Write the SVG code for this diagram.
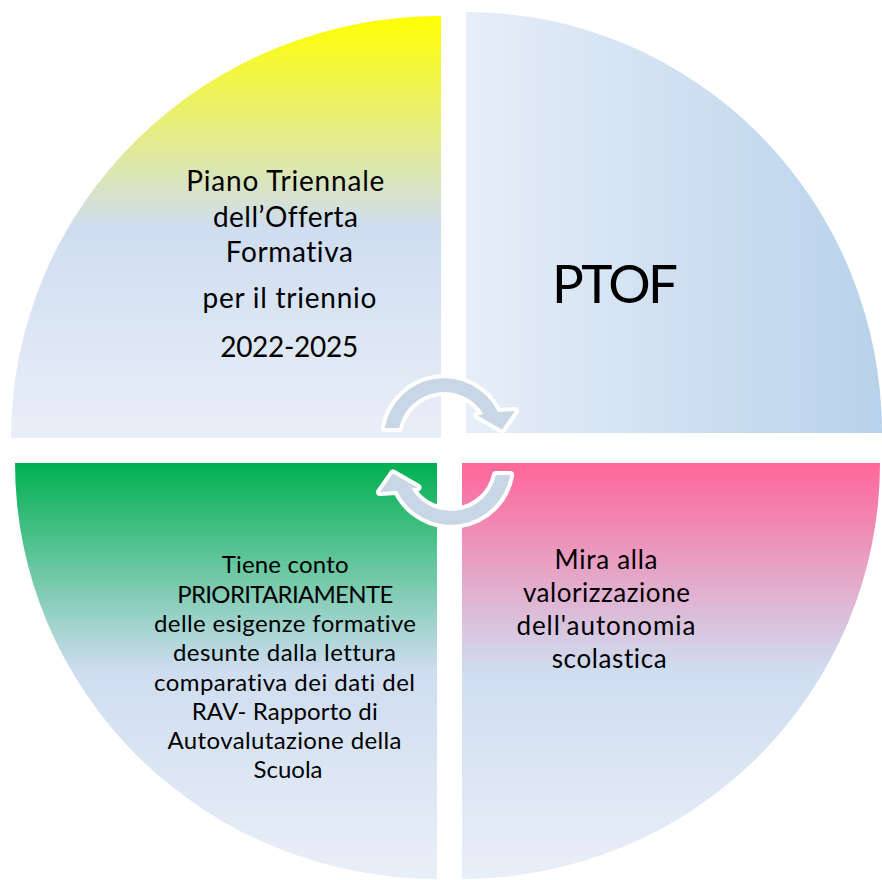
<svg xmlns="http://www.w3.org/2000/svg" xmlns:xlink="http://www.w3.org/1999/xlink" width="882" height="880" viewBox="0 0 882 880">
  <defs>
    <linearGradient id="gYellow" x1="0" y1="0" x2="0" y2="1">
      <stop offset="0" stop-color="#FFFF00"/>
      <stop offset="0.5" stop-color="#CFDDF0"/>
      <stop offset="1" stop-color="#E9EFF8"/>
    </linearGradient>
    <linearGradient id="gGreen" x1="0" y1="0" x2="0" y2="1">
      <stop offset="0" stop-color="#00B050"/>
      <stop offset="0.5" stop-color="#CFDDF0"/>
      <stop offset="1" stop-color="#E9EFF8"/>
    </linearGradient>
    <linearGradient id="gPink" x1="0" y1="0" x2="0" y2="1">
      <stop offset="0" stop-color="#FF6699"/>
      <stop offset="0.5" stop-color="#CFDDF0"/>
      <stop offset="1" stop-color="#E9EFF8"/>
    </linearGradient>
    <linearGradient id="gBlue" x1="0" y1="0" x2="1" y2="0">
      <stop offset="0" stop-color="#E7EEF8"/>
      <stop offset="1" stop-color="#B8D2EB"/>
    </linearGradient>
    <path id="cycArrow" d="M 384.8 428 A 60 60 0 0 1 497.9 412 L 515 411 L 502 429.5 L 477.5 415.5 L 483.4 414.3 A 46 46 0 0 0 399.1 428 Z"/>
  </defs>
  <style>
    .lbl { font-family: Lato, "Liberation Sans", sans-serif; fill: #000000; text-anchor: middle; font-variant-ligatures: none; font-feature-settings: "liga" 0, "clig" 0, "dlig" 0; }
    .arrow { fill: #C8D6E5; stroke: #FFFFFF; stroke-width: 8; stroke-linejoin: round; paint-order: stroke; }
  </style>
  <rect x="0" y="0" width="882" height="880" fill="#FFFFFF"/>

  <g id="node-piano">
    <path d="M 441 438 L 11 438 A 430 422 0 0 1 441 16 Z" fill="url(#gYellow)"/>
    <text class="lbl" font-size="28">
      <tspan x="289.3" y="191" textLength="198">Piano Triennale</tspan>
      <tspan x="289.3" y="227" textLength="145">dell’Offerta</tspan>
      <tspan x="289.3" y="262" textLength="127">Formativa</tspan>
    </text>
    <text class="lbl" font-size="28" x="289.5" y="308" textLength="174">per il triennio</text>
    <text class="lbl" font-size="28" x="289.2" y="357" textLength="138">2022-2025</text>
  </g>

  <g id="node-ptof">
    <path d="M 466 433 L 466 12 A 416 421 0 0 1 882 433 Z" fill="url(#gBlue)"/>
    <text class="lbl" font-size="53" x="615" y="303" textLength="126">PTOF</text>
  </g>

  <g id="node-autonomia">
    <path d="M 462 463 L 880 463 A 418 416 0 0 1 462 879 Z" fill="url(#gPink)"/>
    <text class="lbl" font-size="26">
      <tspan x="609.7" y="569.3" textLength="103">Mira alla</tspan>
      <tspan x="610" y="602" textLength="167">valorizzazione</tspan>
      <tspan x="609.7" y="634.5" textLength="179">dell'autonomia</tspan>
      <tspan x="609.2" y="668.3" textLength="115">scolastica</tspan>
    </text>
  </g>

  <g id="node-rav">
    <path d="M 437 463 L 437 879 A 422 416 0 0 1 15 463 Z" fill="url(#gGreen)"/>
    <text class="lbl" font-size="24">
      <tspan x="288.3" y="573.3" textLength="127">Tiene conto</tspan>
      <tspan x="288" y="602.6" textLength="216">PRIORITARIAMENTE</tspan>
      <tspan x="288.3" y="631.9" textLength="262">delle esigenze formative</tspan>
      <tspan x="287.7" y="661.2" textLength="223">desunte dalla lettura</tspan>
      <tspan x="287.8" y="690.5" textLength="261">comparativa dei dati del</tspan>
      <tspan x="287.8" y="719.8" textLength="186">RAV- Rapporto di</tspan>
      <tspan x="287.8" y="749.1" textLength="234">Autovalutazione della</tspan>
      <tspan x="288" y="778.4" textLength="69">Scuola</tspan>
    </text>
  </g>

  <g id="connectors">
    <use xlink:href="#cycArrow" href="#cycArrow" class="arrow"/>
    <use xlink:href="#cycArrow" href="#cycArrow" class="arrow" transform="rotate(180 447.5 451.5)"/>
  </g>
</svg>
